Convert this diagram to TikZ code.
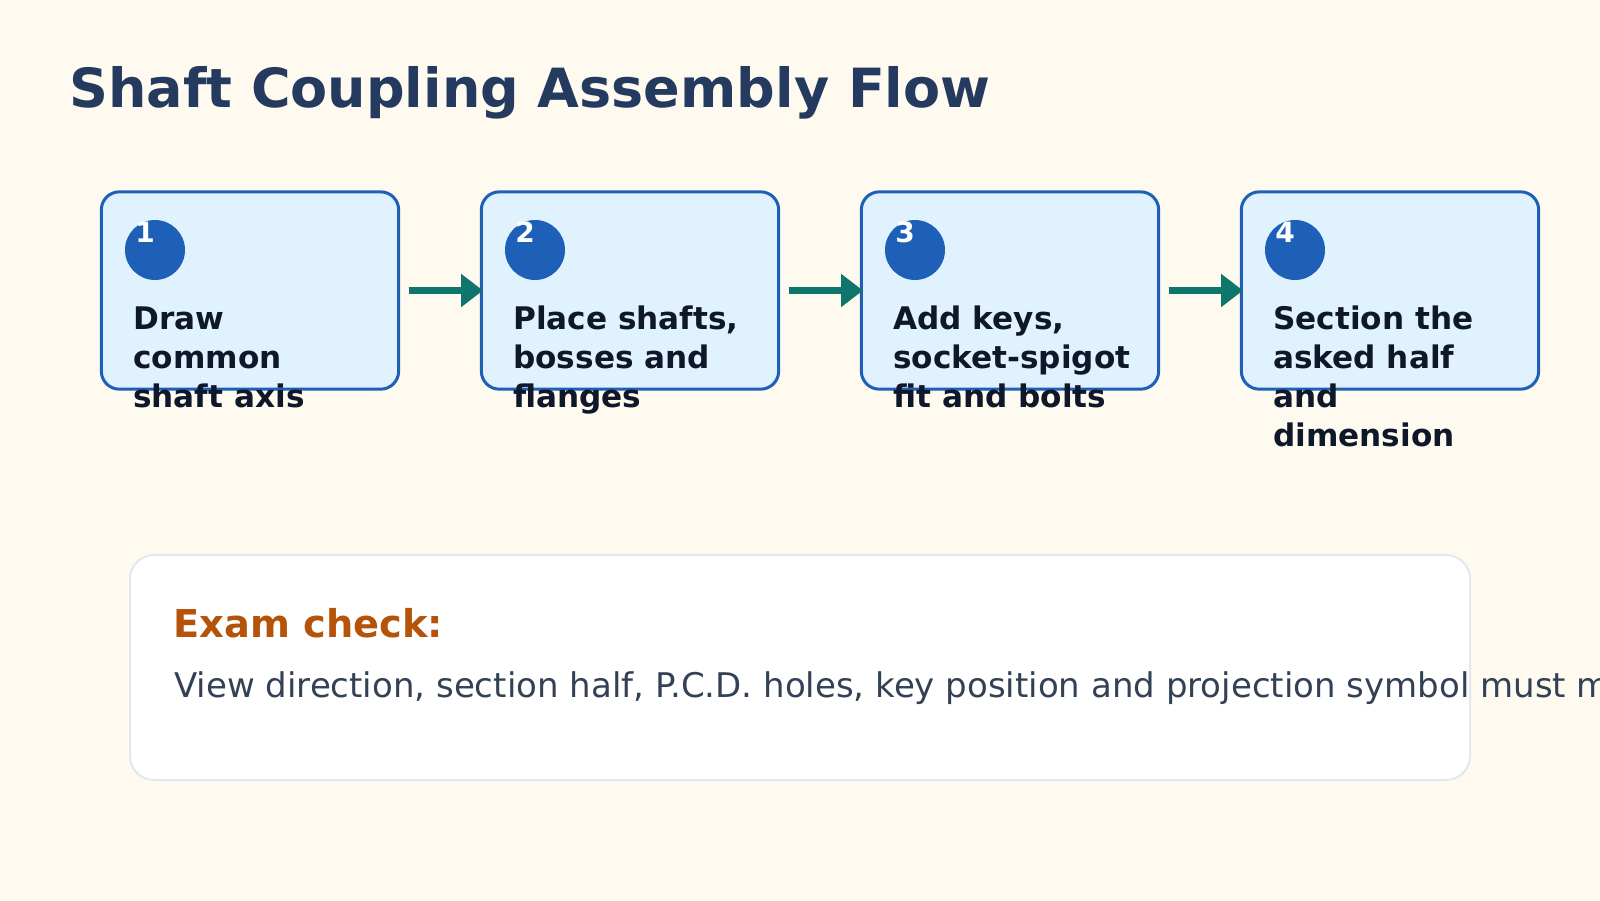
\documentclass[tikz,border=0pt]{standalone}
\usepackage{fontspec}
\setmainfont{DejaVu Sans}
\usetikzlibrary{arrows.meta}

\definecolor{bgcol}{HTML}{FFFAF0}
\definecolor{boxfill}{HTML}{E0F2FE}
\definecolor{boxline}{HTML}{1E5FB8}
\definecolor{flowcol}{HTML}{0F766E}
\definecolor{inkcol}{HTML}{0F172A}
\definecolor{titlecol}{HTML}{243A5E}
\definecolor{examcol}{HTML}{B45309}
\definecolor{bodycol}{HTML}{334155}
\definecolor{panelline}{HTML}{E2E8F0}

\begin{document}
\begin{tikzpicture}[x=0.75pt, y=-0.75pt,
    stepbox/.style = {draw=boxline, fill=boxfill, line width=2.25pt, rounded corners=13.5pt,
                      minimum width=223pt, minimum height=148pt, inner sep=0pt},
    badge/.style = {circle, fill=boxline, minimum size=45pt, inner sep=0pt},
    badgenum/.style = {anchor=base west, inner sep=0pt, text=white,
                       font=\fontsize{21pt}{25pt}\selectfont\bfseries},
    steptext/.style = {anchor=north west, inner sep=0pt, align=left, text=inkcol,
                       font=\fontsize{23.35pt}{29.25pt}\selectfont\bfseries},
    flow/.style = {draw=flowcol, line width=5.25pt,
                   -{Triangle[length=16.5pt, width=24pt]}}]

    \useasboundingbox (0, 0) rectangle (1600, 900);
    \fill[bgcol] (0, 0) rectangle (1600, 900);

    \node[anchor=base west, inner sep=0pt, text=titlecol,
          font=\fontsize{40.5pt}{48pt}\selectfont\bfseries] (title) at (69, 107)
          {Shaft Coupling Assembly Flow};

    \node[stepbox] (s1) at (250, 290.5) {};
    \node[stepbox] (s2) at (630, 290.5) {};
    \node[stepbox] (s3) at (1010, 290.5) {};
    \node[stepbox] (s4) at (1390, 290.5) {};

    \node[badge] (b1) at (155, 250) {};
    \node[badge] (b2) at (535, 250) {};
    \node[badge] (b3) at (915, 250) {};
    \node[badge] (b4) at (1295, 250) {};

    \node[badgenum] (n1) at (135, 242) {1};
    \node[badgenum] (n2) at (515, 242) {2};
    \node[badgenum] (n3) at (895, 242) {3};
    \node[badgenum] (n4) at (1275, 242) {4};

    % first baseline at y = 329
    \node[steptext] (t1) at (133, 301.7) {\strut Draw\\common\\shaft axis};
    \node[steptext] (t2) at (513, 301.7) {\strut Place shafts,\\bosses and\\flanges};
    \node[steptext] (t3) at (893, 301.7) {\strut Add keys,\\socket-spigot\\fit and bolts};
    \node[steptext] (t4) at (1273, 301.7) {\strut Section the\\asked half\\and\\dimension};

    \path[flow] ([xshift=6.4pt]s1.east) -- ([xshift=2.4pt]s2.west);
    \path[flow] ([xshift=6.4pt]s2.east) -- ([xshift=2.4pt]s3.west);
    \path[flow] ([xshift=6.4pt]s3.east) -- ([xshift=2.4pt]s4.west);

    \node[draw=panelline, fill=white, line width=1.5pt, rounded corners=18pt,
          minimum width=1005pt, minimum height=168.75pt] (chk) at (800, 667.5) {};
    \node[anchor=base west, inner sep=0pt, text=examcol,
          font=\fontsize{28.75pt}{34pt}\selectfont\bfseries] (ex) at (173, 637) {Exam check:};
    \node[anchor=base west, inner sep=0pt, text=bodycol,
          font=\fontsize{25.5pt}{30pt}\selectfont] (exbody) at (174, 697)
          {View direction, section half, P.C.D. holes, key position and projection symbol must match.};
  \end{tikzpicture}
\end{document}
